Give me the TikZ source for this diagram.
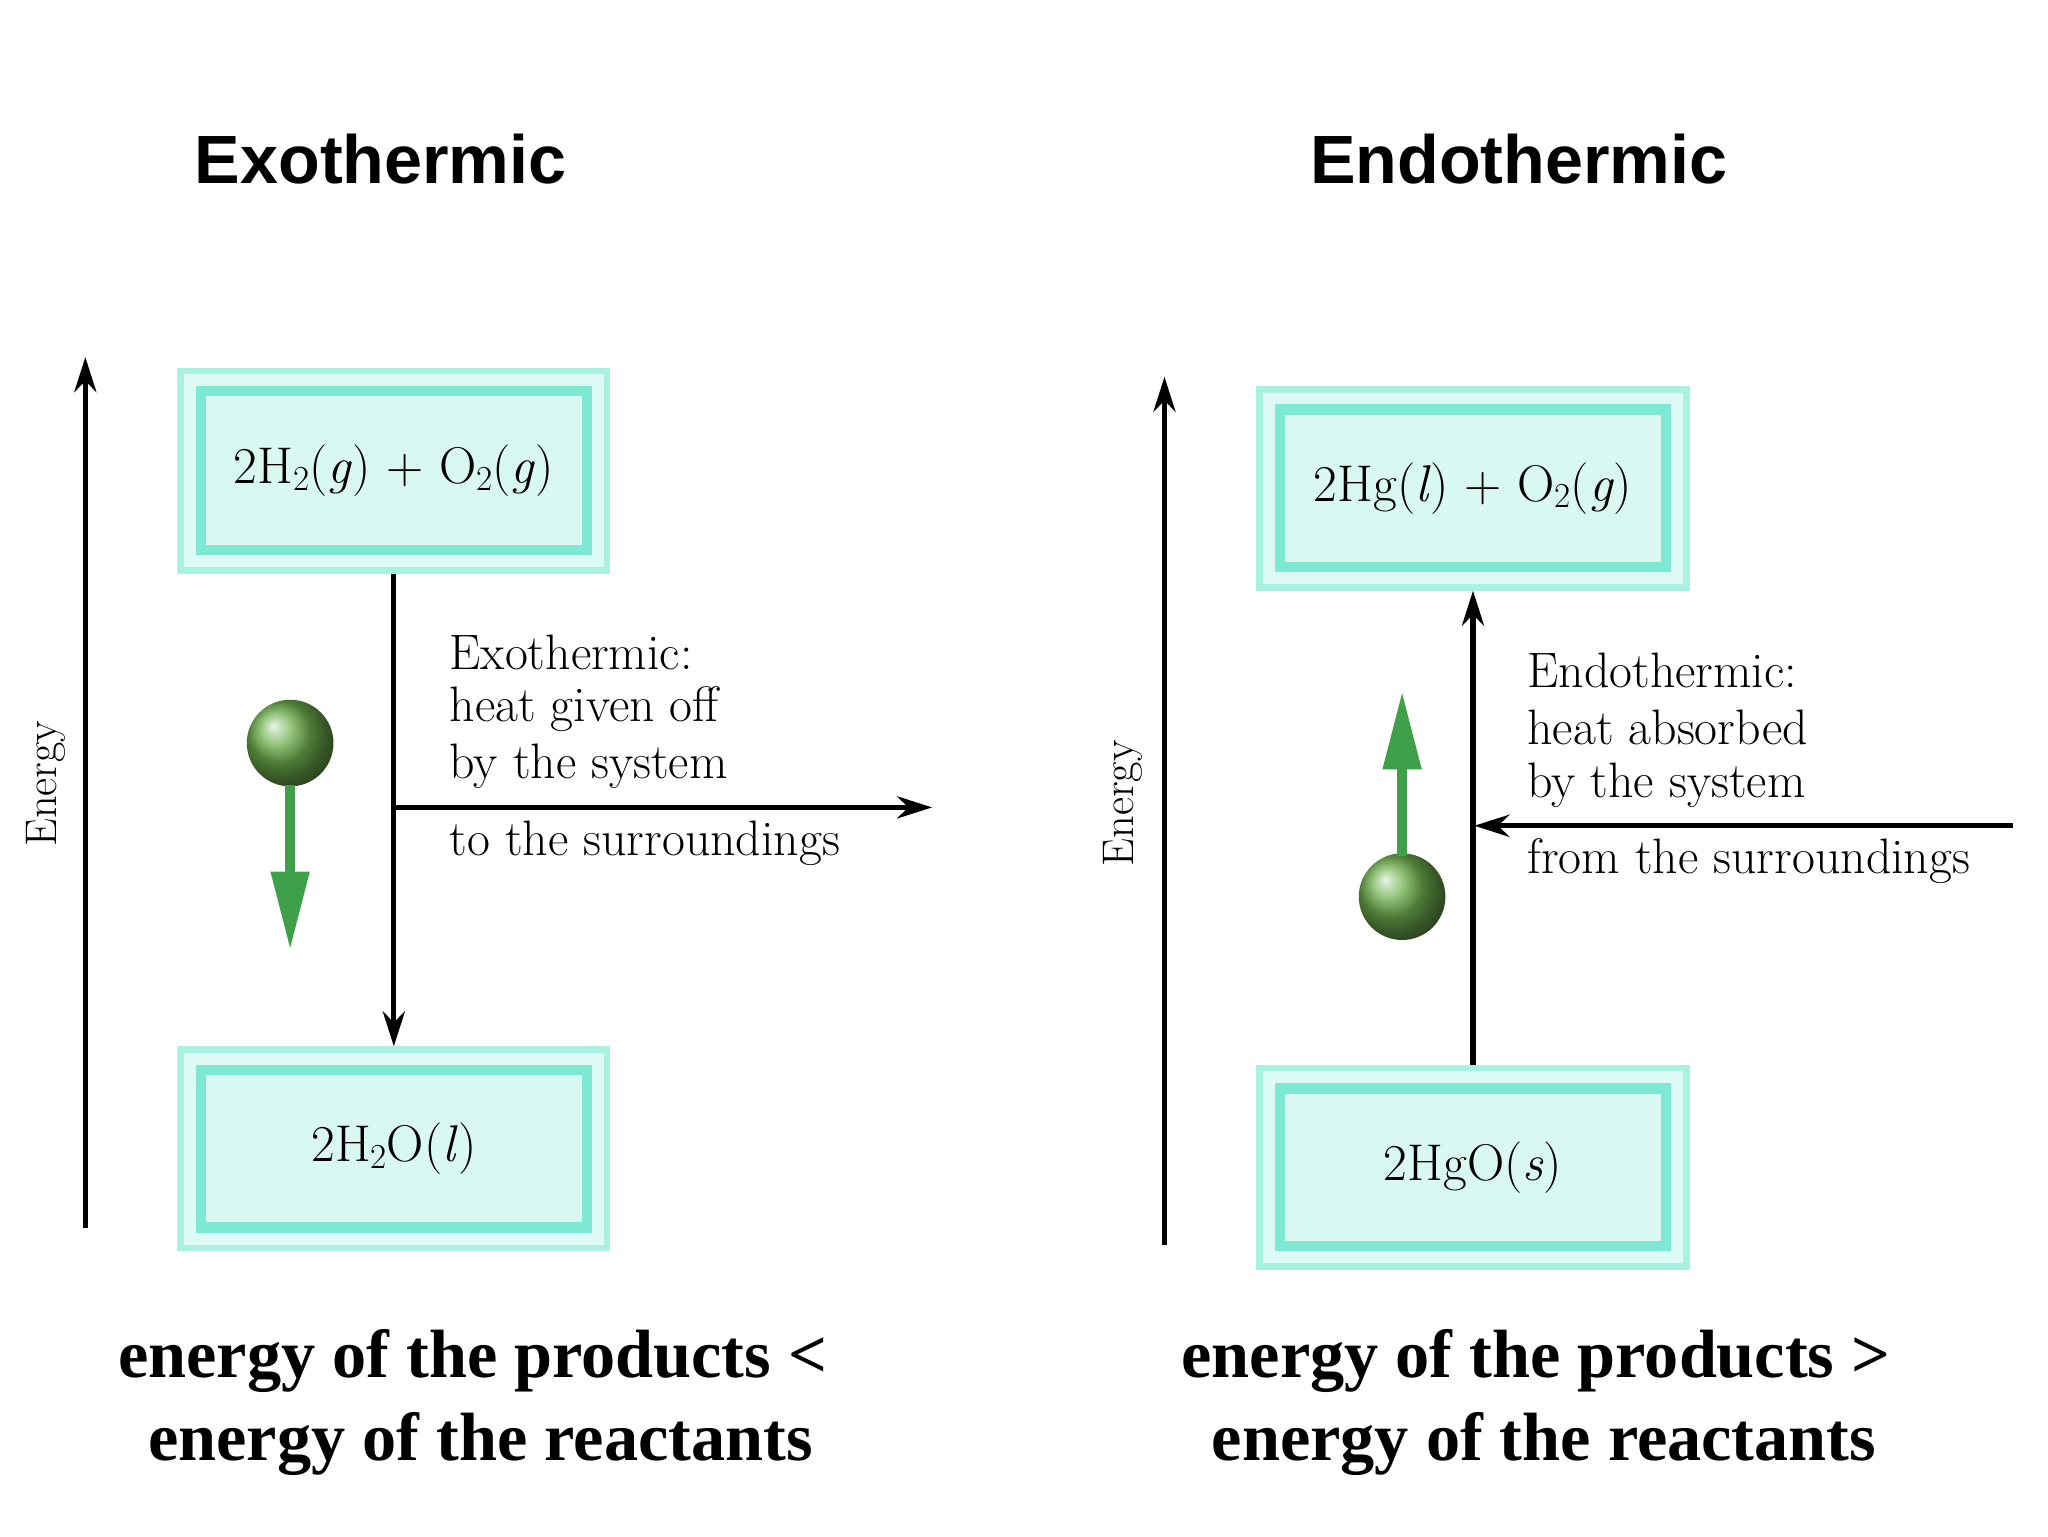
\documentclass[tikz,border=0pt]{standalone}
\usepackage{fontspec}
\newfontfamily\titlefont{Liberation Sans}
\newfontfamily\bottomfont{Liberation Serif}
\usetikzlibrary{arrows.meta}
\definecolor{aqline}{HTML}{7DE9D2}
\definecolor{aqouter}{HTML}{A9F2E2}
\definecolor{aqfill}{HTML}{D8F8F1}
\definecolor{ballgreen}{HTML}{6FB04E}
\definecolor{arrgreen}{HTML}{3FA04A}
\newcommand{\sub}[1]{\raisebox{-0.3ex}{\fontsize{38}{40}\selectfont #1}}
\tikzset{
  px/.style={x=0.05cm,y=-0.05cm},
  axis/.style={line width=5.5pt,-{Stealth[length=38pt,width=24pt]}},
  flow/.style={line width=5.5pt,-{Stealth[length=38pt,width=24pt]}},
  boxtxt/.style={font=\fontsize{56}{60}\selectfont},
  lbl/.style={font=\fontsize{54}{62}\selectfont,anchor=west},
  ttl/.style={font=\titlefont\bfseries\fontsize{74}{80}\selectfont},
  btm/.style={font=\bottomfont\bfseries\fontsize{74}{80}\selectfont},
  elbl/.style={font=\fontsize{48}{50}\selectfont,rotate=90},
  ball/.style={circle,minimum size=66*0.05cm,inner sep=0pt,ball color=ballgreen},
}
\newcommand{\chembox}[5]{% name, x1,y1,x2,y2
  \fill[aqouter] (#2,#3) rectangle (#4,#5);
  \fill[white!60!aqouter] (#2+5,#3+5) rectangle (#4-5,#5-5);
  \fill[aqline] (#2+14,#3+14) rectangle (#4-14,#5-14);
  \fill[aqfill] (#2+22,#3+22) rectangle (#4-22,#5-22);
  \coordinate (#1c) at ({(#2+#4)/2},{(#3+#5)/2});
  \coordinate (#1t) at ({(#2+#4)/2},#3);
  \coordinate (#1b) at ({(#2+#4)/2},#5);
}
\begin{document}
\begin{tikzpicture}[px]
\useasboundingbox (0,0) rectangle (1560,1170);
\fill[white] (0,0) rectangle (1560,1170);
\node[ttl] (t1) at (290,121) {Exothermic};
\node[ttl] (t2) at (1157,121) {Endothermic};
% left
\chembox{A}{135}{280}{465}{437}
\chembox{B}{135}{797}{465}{953}
\node[boxtxt] (a) at (Ac) {2H\sub{2}(\textit{g}) + O\sub{2}(\textit{g})};
\node[boxtxt] (b) at (Bc) {2H\sub{2}O(\textit{l})};
\coordinate (ax1) at (65,935); \coordinate (ax1t) at (65,272);
\draw[axis] (ax1) -- (ax1t);
\node[elbl] (e1) at (35,597) {Energy};
\draw[flow] (Ab) -- (Bt);
\coordinate (h1s) at (300,615); \coordinate (h1e) at (710,615);
\draw[flow] (h1s) -- (h1e);
\node[lbl] (l1) at (340,497) {Exothermic:};
\node[lbl] (l2) at (340,540) {heat given off};
\node[lbl] (l3) at (340,584) {by the system};
\node[lbl] (l4) at (340,642) {to the surroundings};
\node[ball] (g1) at (221,566) {};
\fill[arrgreen] (217,598) rectangle (225,668);
\fill[arrgreen] (206,664) -- (236,664) -- (221,722) -- cycle;
\node[btm] (bt1) at (360,1037) {energy of the products <};
\node[btm] (bt2) at (366,1100) {energy of the reactants};
% right
\chembox{C}{957}{294}{1287}{450}
\chembox{D}{957}{811}{1287}{967}
\node[boxtxt] (c) at (Cc) {2Hg(\textit{l}) + O\sub{2}(\textit{g})};
\node[boxtxt] (d) at (Dc) {2HgO(\textit{s})};
\coordinate (ax2) at (887,948); \coordinate (ax2t) at (887,287);
\draw[axis] (ax2) -- (ax2t);
\node[elbl] (e2) at (855,612) {Energy};
\draw[flow] (Dt) -- (Cb);
\coordinate (h2s) at (1533,629); \coordinate (h2e) at (1123,629);
\draw[flow] (h2s) -- (h2e);
\node[lbl] (r1) at (1161,511) {Endothermic:};
\node[lbl] (r2) at (1161,554) {heat absorbed};
\node[lbl] (r3) at (1161,598) {by the system};
\node[lbl] (r4) at (1161,656) {from the surroundings};
\node[ball] (g2) at (1068,683) {};
\fill[arrgreen] (1064,652) rectangle (1072,582);
\fill[arrgreen] (1053,586) -- (1083,586) -- (1068,528) -- cycle;
\node[btm] (bt3) at (1170,1037) {energy of the products >};
\node[btm] (bt4) at (1176,1100) {energy of the reactants};
\end{tikzpicture}
\end{document}
